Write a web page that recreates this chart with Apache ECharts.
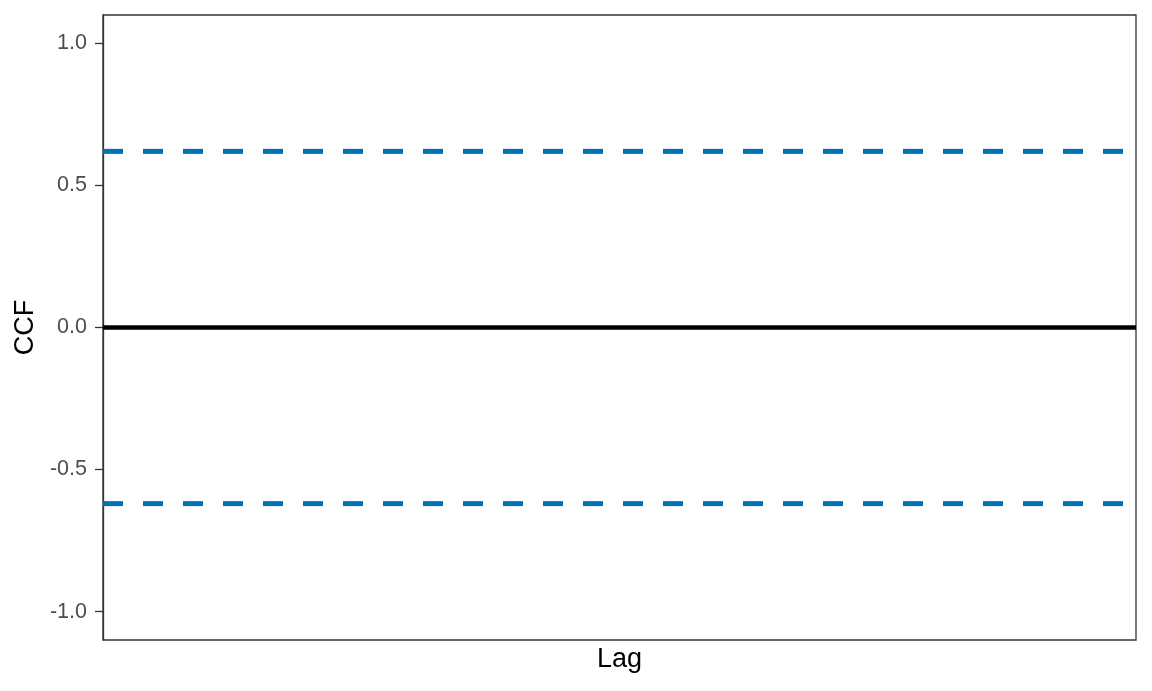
<!DOCTYPE html>
<html>
<head>
<meta charset="utf-8">
<script src="https://cdn.jsdelivr.net/npm/echarts@6/dist/echarts.min.js"></script>
<style>
html,body{margin:0;padding:0;background:#fff;}
#chart{width:1152px;height:691px;}
</style>
</head>
<body>
<div id="chart"></div>
<script>
// Data
const lagRange = [0, 1];          // lag axis has no visible ticks
const zeroLine = [0, 0];          // CCF baseline values at the two lag ends
const upperBound = [0.62, 0.62];  // upper confidence bound
const lowerBound = [-0.62, -0.62];// lower confidence bound
const yTicks = [-1.0, -0.5, 0.0, 0.5, 1.0];
const yRange = [-1.1, 1.1];

const font = '"Liberation Sans", Arial, sans-serif';
const pairs = arr => lagRange.map((x, i) => [x, arr[i]]);

const chart = echarts.init(document.getElementById('chart'), null, {renderer: 'canvas'});
chart.setOption({
  animation: false,
  backgroundColor: '#ffffff',
  grid: {
    left: 103, right: 16, top: 15, bottom: 51,
    show: true, borderColor: '#333333', borderWidth: 1.3, backgroundColor: '#ffffff'
  },
  xAxis: {
    type: 'value', min: lagRange[0], max: lagRange[1],
    name: 'Lag', nameLocation: 'middle', nameGap: 6,
    nameTextStyle: {fontFamily: font, fontSize: 27, color: '#000000'},
    axisLine: {show: false}, axisTick: {show: false}, axisLabel: {show: false},
    splitLine: {show: false}
  },
  yAxis: {
    type: 'value', min: yRange[0], max: yRange[1],
    name: 'CCF', nameLocation: 'middle', nameGap: 61,
    nameTextStyle: {fontFamily: font, fontSize: 27, color: '#000000'},
    axisLine: {show: true, lineStyle: {color: '#333333', width: 1.3}},
    axisTick: {show: true, length: 8, customValues: yTicks, lineStyle: {color: '#333333', width: 1.3}},
    axisLabel: {
      customValues: yTicks, margin: 16,
      fontFamily: font, fontSize: 21.5, color: '#4d4d4d',
      formatter: v => v.toFixed(1)
    },
    splitLine: {show: false}
  },
  series: [
    {
      type: 'line', data: pairs(upperBound), symbol: 'none',
      lineStyle: {color: '#0072B2', width: 5, type: [20, 20]}, silent: true
    },
    {
      type: 'line', data: pairs(lowerBound), symbol: 'none',
      lineStyle: {color: '#0072B2', width: 5, type: [20, 20]}, silent: true
    },
    {
      type: 'line', data: pairs(zeroLine), symbol: 'none',
      lineStyle: {color: '#000000', width: 4.5}, silent: true
    }
  ]
});
</script>
</body>
</html>
